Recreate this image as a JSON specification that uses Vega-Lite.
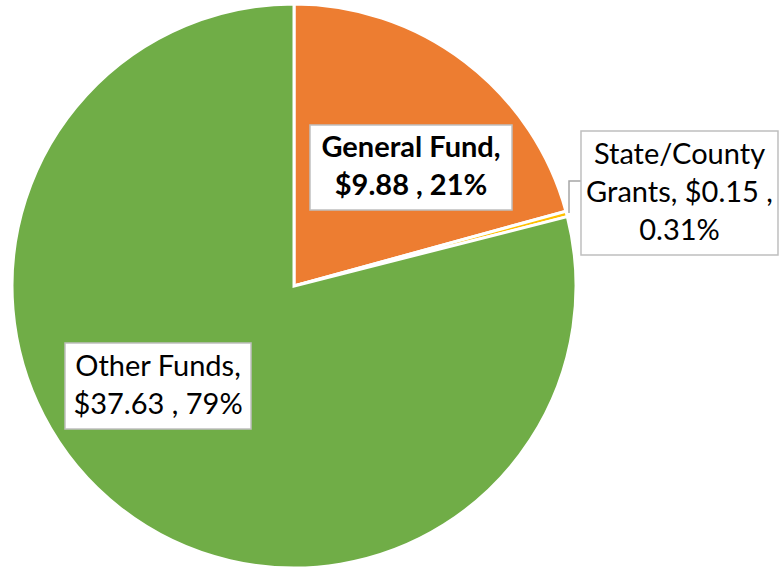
{
  "$schema": "https://vega.github.io/schema/vega-lite/v6.json",
  "width": 780,
  "height": 567,
  "padding": 0,
  "autosize": {"type": "none"},
  "background": "white",
  "config": {"view": {"stroke": null}},
  "datasets": {
    "slices": [
      {"category": "General Fund", "value": 9.88, "ord": 1},
      {"category": "State/County Grants", "value": 0.15, "ord": 2},
      {"category": "Other Funds", "value": 37.63, "ord": 3}
    ],
    "labels": [
      {"category": "General Fund", "text": "General Fund,\n$9.88 , 21%", "bold": true, "x0": 5.67, "x1": 77.3, "y0": 26.95, "y1": 57.09, "cx": 41.49, "cy": 48.76},
      {"category": "State/County Grants", "text": "State/County\nGrants, $0.15 ,\n0.31%", "bold": false, "x0": 101.77, "x1": 171.63, "y0": 10.99, "y1": 54.96, "cx": 136.7, "cy": 46.46},
      {"category": "Other Funds", "text": "Other Funds,\n$37.63 , 79%", "bold": false, "x0": -81.21, "x1": -15.25, "y0": -50.71, "y1": -20.21, "cx": -48.23, "cy": -28.72}
    ],
    "leader": [
      {"step": 1, "lx": 97.52, "ly": 25.89},
      {"step": 2, "lx": 97.52, "ly": 37.23},
      {"step": 3, "lx": 101.77, "ly": 37.23}
    ]
  },
  "layer": [
    {
      "data": {"name": "slices"},
      "mark": {"type": "arc", "outerRadius": 282, "stroke": "white", "strokeWidth": 3},
      "encoding": {
        "x": {"datum": 0, "type": "quantitative", "scale": {"domain": [-104.26, 172.34], "nice": false, "zero": false}, "axis": null},
        "y": {"datum": 0, "type": "quantitative", "scale": {"domain": [-99.65, 101.42], "nice": false, "zero": false}, "axis": null},
        "theta": {"field": "value", "type": "quantitative", "stack": true},
        "order": {"field": "ord", "type": "quantitative"},
        "color": {"field": "category", "type": "nominal", "scale": {"domain": ["General Fund", "State/County Grants", "Other Funds"], "range": ["#ED7D31", "#FFC000", "#70AD47"]}, "legend": null}
      }
    },
    {
      "data": {"name": "leader"},
      "mark": {"type": "line", "color": "#A6A6A6", "strokeWidth": 1.5},
      "encoding": {
        "x": {"field": "lx", "type": "quantitative", "axis": null},
        "y": {"field": "ly", "type": "quantitative", "axis": null},
        "order": {"field": "step", "type": "quantitative"}
      }
    },
    {
      "data": {"name": "labels"},
      "mark": {"type": "rect", "fill": "white", "stroke": "#BFBFBF", "strokeWidth": 1.5},
      "encoding": {
        "x": {"field": "x0", "type": "quantitative", "axis": null},
        "x2": {"field": "x1"},
        "y": {"field": "y0", "type": "quantitative", "axis": null},
        "y2": {"field": "y1"}
      }
    },
    {
      "data": {"name": "labels"},
      "transform": [{"filter": "datum.bold"}],
      "mark": {"type": "text", "font": "Lato", "fontSize": 29, "fontWeight": "bold", "lineBreak": "\n", "lineHeight": 38, "align": "center", "baseline": "middle", "color": "black"},
      "encoding": {
        "x": {"field": "cx", "type": "quantitative", "axis": null},
        "y": {"field": "cy", "type": "quantitative", "axis": null},
        "text": {"field": "text", "type": "nominal"}
      }
    },
    {
      "data": {"name": "labels"},
      "transform": [{"filter": "!datum.bold"}],
      "mark": {"type": "text", "font": "Lato", "fontSize": 29, "lineBreak": "\n", "lineHeight": 38, "align": "center", "baseline": "middle", "color": "black"},
      "encoding": {
        "x": {"field": "cx", "type": "quantitative", "axis": null},
        "y": {"field": "cy", "type": "quantitative", "axis": null},
        "text": {"field": "text", "type": "nominal"}
      }
    }
  ]
}
